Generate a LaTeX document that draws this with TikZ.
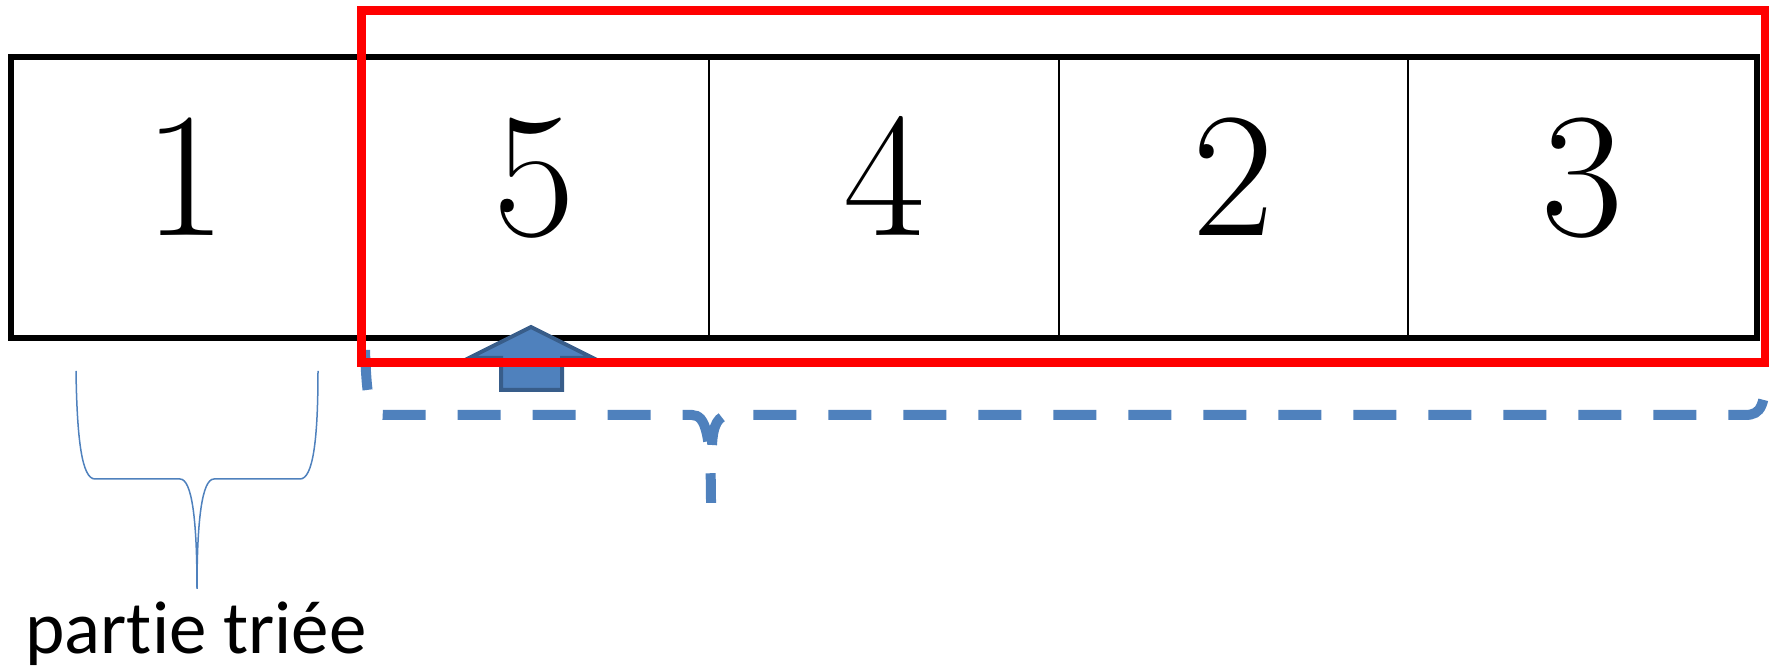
\documentclass[tikz,border=0pt]{standalone}
\usepackage{fontspec}
\newfontfamily\carlito[Ligatures={NoCommon,NoContextual}]{Carlito}
\usepackage{tikz}
\usetikzlibrary{calc}
\definecolor{accentblue}{HTML}{4F81BD}
\definecolor{darkblue}{HTML}{385D8A}

\begin{document}
\begin{tikzpicture}[x=0.5pt,y=-0.5pt,
	cell/.style={draw,line width=1pt,minimum width=174.6pt,minimum height=140.5pt,inner sep=0pt,outer sep=0pt},
	digit/.style={font=\rmfamily\fontsize{89}{89}\selectfont,inner sep=0pt,anchor=base},
	bracedash/.style={accentblue,line width=5pt,dash pattern=on 21.5pt off 16pt}]
	\useasboundingbox (0,0) rectangle (1769,672);
	\foreach \v [count=\i] in {1,5,4,2,3}{
		\node[cell] (c\i) at ({11+349.2*(\i-0.5)},197.5) {};
		\node[digit] (d\i) at ({11+349.2*(\i-0.5)},236) {\v};
	}
	\draw[line width=3pt] (c1.north west) rectangle (c5.south east);
	\filldraw[fill=accentblue,draw=darkblue,line width=2pt] (531,327) -- (593,358) -- (562,358) -- (562,390) -- (501,390) -- (501,358) -- (469,358) -- cycle;
	\draw[bracedash,dash phase=1.5pt] (365,350) .. controls (367,405) and (370,415) .. (385,415) -- (692,415) .. controls (706,415) and (711,435) .. (711,503);
	\draw[bracedash,dash phase=21.5pt] (1766,368) .. controls (1765,405) and (1762,415) .. (1745,415) -- (730,415) .. controls (718,415) and (713,425) .. (712,445);
	\draw[red,line width=4.5pt] (361,11) rectangle (1765,363);
	\draw[accentblue,line width=0.75pt] (76,371) .. controls (77,440) and (82,479) .. (95,479) -- (180,479) .. controls (192,479) and (197,520) .. (197,589) .. controls (197,520) and (202,479) .. (214,479) -- (300,479) .. controls (313,479) and (318,440) .. (318,371);
	\node[font=\carlito\fontsize{37.5}{37.5}\selectfont,anchor=base,inner sep=0pt] (sorted) at (196,654) {partie triée};
\end{tikzpicture}
\end{document}
